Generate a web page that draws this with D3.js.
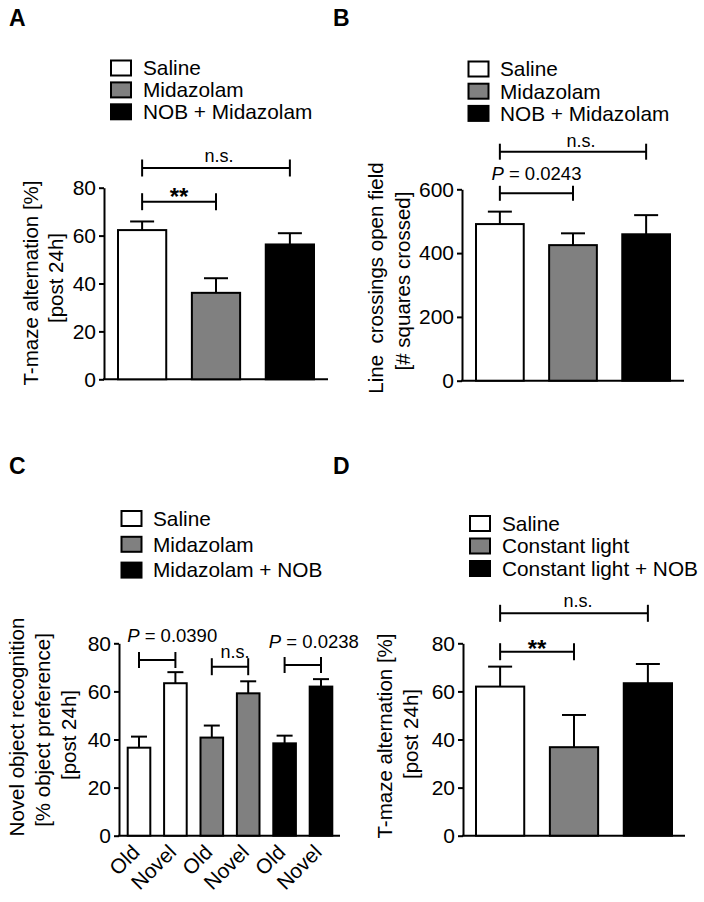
<!DOCTYPE html>
<html><head><meta charset="utf-8">
<script src="https://cdn.jsdelivr.net/npm/d3@7"></script>
<style>
body{margin:0;background:#fff}
svg text{font-family:"Liberation Sans",Arial,Helvetica,sans-serif;fill:#000}
</style>
</head><body>
<svg id="chart" width="704" height="902"></svg>
<script>
// ---------- data ----------
const groupsA = ["Saline", "Midazolam", "NOB + Midazolam"];
const meansA = [62.3, 36.1, 56.3];
const semA = [3.6, 6.1, 4.7];
const ticksA = [0, 20, 40, 60, 80];

const groupsB = ["Saline", "Midazolam", "NOB + Midazolam"];
const meansB = [491, 425, 459];
const semB = [39, 37, 60];
const ticksB = [0, 200, 400, 600];

const legendC = ["Saline", "Midazolam", "Midazolam + NOB"];
const categoriesC = ["Old", "Novel", "Old", "Novel", "Old", "Novel"];
const groupOfC = [0, 0, 1, 1, 2, 2];
const meansC = [36.6, 63.4, 40.8, 59.2, 38.4, 62.0];
const semC = [4.6, 4.6, 5.0, 5.0, 3.2, 3.1];
const ticksC = [0, 20, 40, 60, 80];

const groupsD = ["Saline", "Constant light", "Constant light + NOB"];
const meansD = [62.0, 36.8, 63.4];
const semD = [8.3, 13.4, 8.0];
const ticksD = [0, 20, 40, 60, 80];

const fills = ["#ffffff", "#808080", "#000000"];

const svg = d3.select("#chart");

function drawPanel(p) {
  const g = svg.append("g");
  const n = p.means.length;
  const y = d3.scaleLinear().domain([0, p.max]).range([p.y0, p.y1]);
  const x = d3.scaleBand().domain(d3.range(n)).range(p.band).paddingInner(p.pad);

  // panel letter
  g.append("text").attr("x", p.letterX).attr("y", p.letterY)
    .attr("font-size", 23).attr("font-weight", "bold").text(p.letter);

  // legend
  const lg = g.append("g");
  p.legend.forEach((name, i) => {
    const yy = p.leg.y + i * p.leg.pitch;
    lg.append("rect").attr("x", p.leg.x + 1).attr("y", yy + 1)
      .attr("width", p.leg.w - 2).attr("height", p.leg.h - 2)
      .attr("fill", fills[i]).attr("stroke", "#000").attr("stroke-width", 2);
    lg.append("text").attr("x", p.leg.tx).attr("y", yy + p.leg.h / 2 + 7.3)
      .attr("font-size", 20.8).text(name);
  });

  // y axis
  const ax = g.append("g").attr("transform", `translate(${p.axisX},0)`)
    .call(d3.axisLeft(y).tickValues(p.ticks).tickSize(5).tickPadding(3).tickSizeOuter(0));
  ax.attr("font-size", 21).attr("font-family", null);
  ax.selectAll("path,line").attr("stroke", "#000").attr("stroke-width", 2);
  ax.selectAll("text").attr("fill", "#000");

  // x axis line
  g.append("line").attr("x1", p.axisX - 1).attr("x2", p.axisEnd)
    .attr("y1", y(0)).attr("y2", y(0)).attr("stroke", "#000").attr("stroke-width", 2);

  // error bars
  const eb = g.append("g").attr("stroke", "#000").attr("stroke-width", 2);
  d3.range(n).forEach(i => {
    const cx = x(i) + x.bandwidth() / 2;
    eb.append("line").attr("x1", cx).attr("x2", cx)
      .attr("y1", y(p.means[i])).attr("y2", y(p.means[i] + p.sem[i]));
    eb.append("line").attr("x1", cx - p.cap).attr("x2", cx + p.cap)
      .attr("y1", y(p.means[i] + p.sem[i])).attr("y2", y(p.means[i] + p.sem[i]));
  });

  // bars
  g.append("g").selectAll("rect").data(d3.range(n)).join("rect")
    .attr("x", i => x(i) + 1).attr("width", x.bandwidth() - 2)
    .attr("y", i => y(p.means[i])).attr("height", i => y(0) - y(p.means[i]))
    .attr("fill", i => fills[p.groupOf[i]]).attr("stroke", "#000").attr("stroke-width", 2);

  // category labels (panel C)
  if (p.cats) {
    p.cats.forEach((c, i) => {
      const cx = x(i) + x.bandwidth() / 2;
      g.append("text").attr("transform", `translate(${cx + 2},${p.catY}) rotate(-45)`)
        .attr("text-anchor", "end").attr("font-size", 20.8).text(c);
    });
  }

  // y title
  p.title.forEach((t, k) => {
    g.append("text").attr("transform", `translate(${t.x},${t.y}) rotate(-90)`)
      .attr("text-anchor", "middle").attr("font-size", 20.5)
      .style("white-space", "pre").text(t.s);
  });

  // significance brackets
  p.brackets.forEach(b => {
    const xa = x(b.a) + x.bandwidth() / 2, xb = x(b.b) + x.bandwidth() / 2;
    const bg = g.append("g").attr("stroke", "#000").attr("stroke-width", 2);
    bg.append("line").attr("x1", xa).attr("x2", xb).attr("y1", b.y).attr("y2", b.y);
    bg.append("line").attr("x1", xa).attr("x2", xa).attr("y1", b.y - b.h).attr("y2", b.y + b.h);
    bg.append("line").attr("x1", xb).attr("x2", xb).attr("y1", b.y - b.h).attr("y2", b.y + b.h);
    const t = g.append("text").attr("x", (xa + xb) / 2 + b.dx).attr("y", b.ty)
      .attr("text-anchor", "middle");
    if (b.label === "**") {
      t.attr("font-size", 24).attr("font-weight", "bold").text("**");
    } else if (b.label.startsWith("P")) {
      t.attr("font-size", 18.5);
      t.append("tspan").attr("font-style", "italic").text("P");
      t.append("tspan").text(b.label.slice(1));
    } else {
      t.attr("font-size", 18).text(b.label);
    }
  });
}

drawPanel({
  letter: "A", letterX: 9, letterY: 26,
  legend: groupsA, leg: {x: 110, y: 59.5, pitch: 21.9, w: 22, h: 17, tx: 143},
  means: meansA, sem: semA, groupOf: [0, 1, 2], ticks: ticksA, max: 80,
  y0: 379.3, y1: 187.7, axisX: 104, axisEnd: 328, band: [117, 315], pad: 0.32, cap: 12,
  title: [{x: 38, y: 283, s: "T-maze alternation [%]"}, {x: 63, y: 278, s: "[post 24h]"}],
  brackets: [
    {a: 0, b: 1, y: 201.7, h: 8.5, label: "**", ty: 205, dx: 0},
    {a: 0, b: 2, y: 168, h: 8.5, label: "n.s.", ty: 161.7, dx: 3}
  ]
});

drawPanel({
  letter: "B", letterX: 333, letterY: 26,
  legend: groupsB, leg: {x: 467.5, y: 60.5, pitch: 22.2, w: 22, h: 17, tx: 500},
  means: meansB, sem: semB, groupOf: [0, 1, 2], ticks: ticksB, max: 600,
  y0: 380.7, y1: 189.3, axisX: 462, axisEnd: 684, band: [475, 671], pad: 0.32, cap: 12,
  title: [{x: 383, y: 278, s: "Line  crossings open field"}, {x: 410, y: 281, s: "[# squares crossed]"}],
  brackets: [
    {a: 0, b: 1, y: 193.3, h: 7.5, label: "P = 0.0243", ty: 180, dx: 0},
    {a: 0, b: 2, y: 151.7, h: 8, label: "n.s.", ty: 146.7, dx: 8}
  ]
});

drawPanel({
  letter: "C", letterX: 9, letterY: 474,
  legend: legendC, leg: {x: 120.5, y: 510, pitch: 25.8, w: 22, h: 17, tx: 153},
  means: meansC, sem: semC, groupOf: groupOfC, cats: categoriesC, catY: 853.5,
  ticks: ticksC, max: 80,
  y0: 835.7, y1: 643.3, axisX: 119, axisEnd: 340, band: [126.7, 333.3], pad: 0.324, cap: 8,
  title: [{x: 24, y: 727, s: "Novel object recognition"},
          {x: 50, y: 730, s: "[% object preference]"},
          {x: 76, y: 735, s: "[post 24h]"}],
  brackets: [
    {a: 0, b: 1, y: 660, h: 8, label: "P = 0.0390", ty: 641.7, dx: 15},
    {a: 2, b: 3, y: 666.7, h: 8.5, label: "n.s.", ty: 658.3, dx: 5},
    {a: 4, b: 5, y: 665, h: 8, label: "P = 0.0238", ty: 648.3, dx: 11}
  ]
});

drawPanel({
  letter: "D", letterX: 333, letterY: 474,
  legend: groupsD, leg: {x: 469, y: 515, pitch: 22.5, w: 22, h: 17, tx: 502},
  means: meansD, sem: semD, groupOf: [0, 1, 2], ticks: ticksD, max: 80,
  y0: 835.7, y1: 643.3, axisX: 463, axisEnd: 685, band: [475, 673], pad: 0.32, cap: 12,
  title: [{x: 392, y: 736, s: "T-maze alternation [%]"}, {x: 418, y: 734, s: "[post 24h]"}],
  brackets: [
    {a: 0, b: 1, y: 651.7, h: 8.5, label: "**", ty: 657, dx: 0},
    {a: 0, b: 2, y: 613.3, h: 8.5, label: "n.s.", ty: 606.7, dx: 4}
  ]
});
</script>
</body></html>
